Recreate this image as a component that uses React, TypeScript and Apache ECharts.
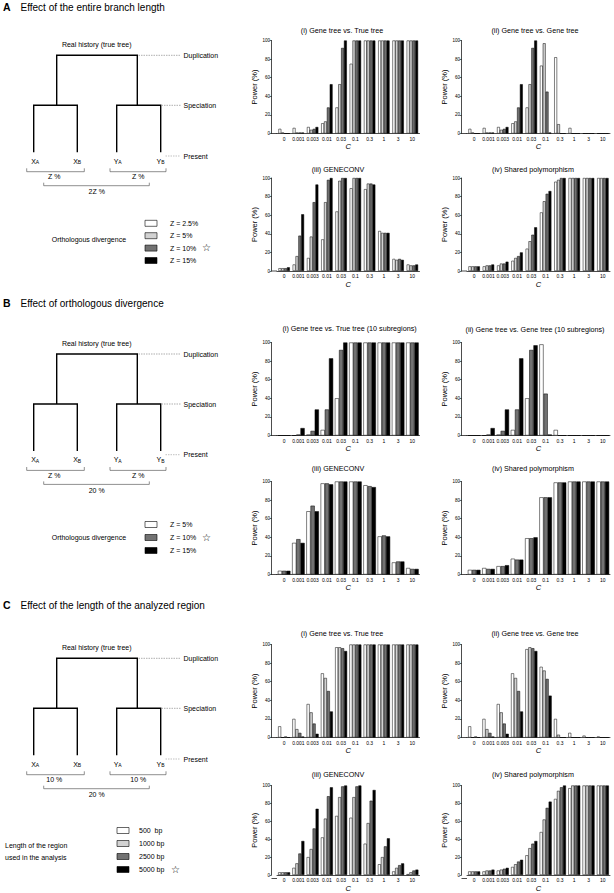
import React, { useEffect, useRef } from 'react';
import * as echarts from 'echarts';

const FONT = '"Liberation Sans", Arial, Helvetica, sans-serif';

// ---------- data ----------
const categories = ['0', '0.001', '0.003', '0.01', '0.03', '0.1', '0.3', '1', '3', '10'];

const namesA = ['Z = 2.5%', 'Z = 5%', 'Z = 10%', 'Z = 15%'];
const namesB = ['Z = 5%', 'Z = 10%', 'Z = 15%'];
const namesC = ['500  bp', '1000 bp', '2500 bp', '5000 bp'];

// A (i) Gene tree vs. True tree
const aI_z25 = [5, 6, 7, 11, 28, 75, 100, 100, 100, 100];
const aI_z5 = [1, 1, 4, 13, 53, 100, 100, 100, 100, 100];
const aI_z10 = [0, 1, 5, 28, 92, 100, 100, 100, 100, 100];
const aI_z15 = [0, 1, 7, 53, 100, 100, 100, 100, 100, 100];
// A (ii) Gene tree vs. Gene tree
const aII_z25 = [5, 6, 7, 11, 28, 73, 82, 6, 0, 0];
const aII_z5 = [1, 1, 4, 13, 53, 97, 10, 0, 0, 0];
const aII_z10 = [0, 1, 5, 28, 92, 45, 0, 0, 0, 0];
const aII_z15 = [0, 1, 7, 53, 100, 1, 0, 0, 0, 0];
// A (iii) GENECONV
const aIII_z25 = [3, 7, 14, 34, 64, 89, 88, 43, 13, 7];
const aIII_z5 = [3, 16, 37, 74, 97, 100, 94, 41, 12, 6];
const aIII_z10 = [3, 38, 74, 98, 100, 100, 94, 41, 13, 6];
const aIII_z15 = [4, 61, 93, 100, 100, 100, 93, 41, 12, 7];
// A (iv) Shared polymorphism
const aIV_z25 = [5, 5, 6, 11, 24, 63, 96, 100, 100, 100];
const aIV_z5 = [5, 6, 8, 14, 32, 75, 98, 100, 100, 100];
const aIV_z10 = [5, 6, 8, 16, 39, 83, 100, 100, 100, 100];
const aIV_z15 = [5, 7, 10, 20, 47, 86, 100, 100, 100, 100];

// B (i) Gene tree vs. True tree (10 subregions)
const bI_z5 = [0, 0, 1, 6, 40, 100, 100, 100, 100, 100];
const bI_z10 = [0, 1, 5, 28, 92, 100, 100, 100, 100, 100];
const bI_z15 = [0, 8, 28, 83, 100, 100, 100, 100, 100, 100];
// B (ii) Gene tree vs. Gene tree (10 subregions)
const bII_z5 = [0, 0, 1, 6, 40, 98, 6, 0, 0, 0];
const bII_z10 = [0, 1, 5, 28, 92, 45, 0, 0, 0, 0];
const bII_z15 = [0, 8, 28, 83, 97, 1, 0, 0, 0, 0];
// B (iii) GENECONV
const bIII_z5 = [4, 34, 68, 98, 100, 100, 96, 41, 13, 7];
const bIII_z10 = [4, 38, 74, 98, 100, 100, 95, 42, 14, 6];
const bIII_z15 = [4, 34, 68, 97, 100, 100, 94, 41, 14, 6];
// B (iv) Shared polymorphism
const bIV_z5 = [5, 7, 9, 17, 39, 83, 99, 100, 100, 100];
const bIV_z10 = [5, 6, 9, 16, 39, 83, 99, 100, 100, 100];
const bIV_z15 = [5, 6, 10, 16, 40, 83, 99, 100, 100, 100];

// C (i) Gene tree vs. True tree
const cI_500 = [12, 20, 36, 69, 97, 100, 100, 100, 100, 100];
const cI_1000 = [0, 9, 27, 64, 97, 100, 100, 100, 100, 100];
const cI_2500 = [1, 5, 15, 50, 96, 100, 100, 100, 100, 100];
const cI_5000 = [0, 1, 4, 28, 93, 100, 100, 100, 100, 100];
// C (ii) Gene tree vs. Gene tree
const cII_500 = [12, 20, 36, 69, 95, 76, 20, 5, 2, 1];
const cII_1000 = [0, 9, 27, 64, 97, 72, 3, 0, 0, 0];
const cII_2500 = [1, 5, 15, 50, 96, 63, 0, 0, 0, 0];
const cII_5000 = [0, 1, 4, 28, 93, 45, 0, 0, 0, 0];
// C (iii) GENECONV
const cIII_500 = [3, 8, 20, 42, 66, 64, 35, 12, 4, 1];
const cIII_1000 = [3, 13, 29, 63, 87, 87, 58, 20, 8, 3];
const cIII_2500 = [3, 24, 52, 88, 99, 99, 83, 32, 11, 5];
const cIII_5000 = [3, 38, 74, 98, 100, 100, 95, 41, 13, 6];
// C (iv) Shared polymorphism
const cIV_500 = [4, 4, 5, 9, 22, 48, 85, 97, 100, 100];
const cIV_1000 = [4, 5, 6, 12, 30, 62, 94, 100, 100, 100];
const cIV_2500 = [4, 5, 7, 15, 35, 75, 98, 100, 100, 100];
const cIV_5000 = [4, 6, 8, 17, 38, 82, 100, 100, 100, 100];

// ---------- styling / layout ----------
const WHITE = '#ffffff';
const LIGHT = '#d2d2d2';
const DARK = '#727272';
const BLACK = '#000000';
const COLORS4 = [WHITE, LIGHT, DARK, BLACK];
const COLORS3 = [WHITE, DARK, BLACK];

const COL1 = { axisX: 271.5, left: 277, width: 142.5, titleX: 342 };
const COL2 = { axisX: 461.5, left: 467, width: 143, titleX: 535 };
const H = 93;

type Panel = {
  title: string; titleX: number; titleY: number; top: number;
  col: typeof COL1; series: number[][]; names: string[]; colors: string[]; gap: string;
};

const panels: Panel[] = [
  { title: '(i) Gene tree vs. True tree', titleX: 342, titleY: 30, top: 40.5, col: COL1, series: [aI_z25, aI_z5, aI_z10, aI_z15], names: namesA, colors: COLORS4, gap: '20%' },
  { title: '(ii) Gene tree vs. Gene tree', titleX: 535, titleY: 30, top: 40.5, col: COL2, series: [aII_z25, aII_z5, aII_z10, aII_z15], names: namesA, colors: COLORS4, gap: '20%' },
  { title: '(iii) GENECONV', titleX: 338, titleY: 169, top: 178, col: COL1, series: [aIII_z25, aIII_z5, aIII_z10, aIII_z15], names: namesA, colors: COLORS4, gap: '20%' },
  { title: '(iv) Shared polymorphism', titleX: 533, titleY: 169, top: 178, col: COL2, series: [aIV_z25, aIV_z5, aIV_z10, aIV_z15], names: namesA, colors: COLORS4, gap: '20%' },
  { title: '(i) Gene tree vs. True tree (10 subregions)', titleX: 349.5, titleY: 328.7, top: 342.5, col: COL1, series: [bI_z5, bI_z10, bI_z15], names: namesB, colors: COLORS3, gap: '12%' },
  { title: '(ii) Gene tree vs. Gene tree (10 subregions)', titleX: 535, titleY: 329.7, top: 342.5, col: COL2, series: [bII_z5, bII_z10, bII_z15], names: namesB, colors: COLORS3, gap: '12%' },
  { title: '(iii) GENECONV', titleX: 338, titleY: 468.3, top: 481.5, col: COL1, series: [bIII_z5, bIII_z10, bIII_z15], names: namesB, colors: COLORS3, gap: '12%' },
  { title: '(iv) Shared polymorphism', titleX: 533, titleY: 468.3, top: 481.5, col: COL2, series: [bIV_z5, bIV_z10, bIV_z15], names: namesB, colors: COLORS3, gap: '12%' },
  { title: '(i) Gene tree vs. True tree', titleX: 342, titleY: 633, top: 644.5, col: COL1, series: [cI_500, cI_1000, cI_2500, cI_5000], names: namesC, colors: COLORS4, gap: '16%' },
  { title: '(ii) Gene tree vs. Gene tree', titleX: 535, titleY: 633, top: 644.5, col: COL2, series: [cII_500, cII_1000, cII_2500, cII_5000], names: namesC, colors: COLORS4, gap: '16%' },
  { title: '(iii) GENECONV', titleX: 338, titleY: 774.7, top: 785.5, col: COL1, series: [cIII_500, cIII_1000, cIII_2500, cIII_5000], names: namesC, colors: COLORS4, gap: '16%' },
  { title: '(iv) Shared polymorphism', titleX: 533, titleY: 774.7, top: 785.5, col: COL2, series: [cIV_500, cIV_1000, cIV_2500, cIV_5000], names: namesC, colors: COLORS4, gap: '16%' },
];

function txt(text: string, x: number, y: number, opts: any = {}) {
  return {
    type: 'text', x, y, silent: true,
    style: {
      text, fill: '#000', fontFamily: FONT, fontSize: opts.fontSize ?? 7,
      fontWeight: opts.fontWeight ?? 'normal', fontStyle: opts.fontStyle ?? 'normal',
      textAlign: opts.align ?? 'left', textVerticalAlign: 'middle',
      rich: opts.rich,
    },
  };
}

function poly(points: number[][], lineWidth: number, stroke = '#000', lineDash?: number[]) {
  return { type: 'polyline', silent: true, shape: { points }, style: { stroke, lineWidth, fill: null, lineDash } };
}

function treeGraphics(dy: number, l1: string, l2: string, l3: string) {
  const g: any[] = [];
  const Y = (v: number) => v + dy;
  g.push(txt('Real history (true tree)', 96.7, Y(44.3), { align: 'center' }));
  g.push(poly([[56.7, Y(105.3)], [56.7, Y(55.3)], [137.3, Y(55.3)], [137.3, Y(105.3)]], 1.4));
  g.push(poly([[33.7, Y(152.3)], [33.7, Y(105.3)], [77.3, Y(105.3)], [77.3, Y(152.3)]], 1.4));
  g.push(poly([[116.7, Y(152.3)], [116.7, Y(105.3)], [160.7, Y(105.3)], [160.7, Y(152.3)]], 1.4));
  g.push(poly([[138.5, Y(55.3)], [180.5, Y(55.3)]], 0.6, '#777', [1.5, 1]));
  g.push(poly([[161.5, Y(105.3)], [180.5, Y(105.3)]], 0.6, '#777', [1.5, 1]));
  g.push(poly([[165.5, Y(156)], [180.5, Y(156)]], 0.6, '#999', [1.5, 1]));
  g.push(txt('Duplication', 183.5, Y(55.3)));
  g.push(txt('Speciation', 183.5, Y(105.3)));
  g.push(txt('Present', 183.5, Y(156)));
  const rich = { m: { fontSize: 7, fontFamily: FONT, verticalAlign: 'bottom' }, s: { fontSize: 5, fontFamily: FONT, verticalAlign: 'bottom' } };
  g.push(txt('{m|X}{s|A}', 35.2, Y(161), { align: 'center', rich }));
  g.push(txt('{m|X}{s|B}', 77.2, Y(161), { align: 'center', rich }));
  g.push(txt('{m|Y}{s|A}', 117.7, Y(161), { align: 'center', rich }));
  g.push(txt('{m|Y}{s|B}', 160.5, Y(161), { align: 'center', rich }));
  g.push(poly([[26.7, Y(168.3)], [26.7, Y(171.7)], [84.3, Y(171.7)], [84.3, Y(168.3)]], 0.6, '#444'));
  g.push(poly([[110, Y(168.3)], [110, Y(171.7)], [166, Y(171.7)], [166, Y(168.3)]], 0.6, '#444'));
  g.push(poly([[43.7, Y(182.7)], [43.7, Y(185.7)], [149.3, Y(185.7)], [149.3, Y(182.7)]], 0.6, '#444'));
  g.push(txt(l1, 54.3, Y(176.7), { align: 'center' }));
  g.push(txt(l2, 138.3, Y(176.7), { align: 'center' }));
  g.push(txt(l3, 96.7, Y(191.7), { align: 'center' }));
  return g;
}

function legendGraphics(names: string[], colors: string[], ys: number[], boxX: number, labelX: number, starIndex: number) {
  const g: any[] = [];
  names.forEach((n, i) => {
    g.push({ type: 'rect', silent: true, shape: { x: boxX, y: ys[i] - 3, width: 12, height: 6 }, style: { fill: colors[i], stroke: '#000', lineWidth: 0.6 } });
    g.push(txt(n, labelX, ys[i]));
    if (i === starIndex) {
      g.push({ type: 'text', x: labelX + 32, y: ys[i] - 0.5, silent: true, style: { text: '\u2606', fill: '#000', fontFamily: '"DejaVu Sans", sans-serif', fontSize: 10, textAlign: 'left', textVerticalAlign: 'middle' } });
    }
  });
  return g;
}

function header(letter: string, text: string, y: number) {
  return [
    txt(letter, 3, y, { fontSize: 10.5, fontWeight: 'bold' }),
    txt(text, 20.5, y, { fontSize: 10 }),
  ];
}

function buildOption() {
  const grid: any[] = [];
  const xAxis: any[] = [];
  const yAxis: any[] = [];
  const series: any[] = [];
  const graphic: any[] = [];

  panels.forEach((p, i) => {
    grid.push({ left: p.col.left, top: p.top, width: p.col.width, height: H, containLabel: false });
    xAxis.push({
      type: 'category', gridIndex: i, data: categories,
      name: 'C', nameLocation: 'middle', nameGap: 9,
      nameTextStyle: { fontFamily: FONT, fontSize: 7.5, fontStyle: 'italic', color: '#000' },
      axisLine: { show: true, lineStyle: { color: '#000', width: 0.7 } },
      axisTick: { show: false },
      axisLabel: { interval: 0, fontSize: 5, margin: 2.5, color: '#000', fontFamily: FONT },
      splitLine: { show: false },
    });
    yAxis.push({
      type: 'value', gridIndex: i, min: 0, max: 100, interval: 20,
      offset: p.col.left - p.col.axisX,
      name: 'Power (%)', nameLocation: 'middle', nameGap: 9,
      nameTextStyle: { fontFamily: FONT, fontSize: 7.5, color: '#000' },
      axisLine: { show: true, lineStyle: { color: '#000', width: 0.7 } },
      axisTick: { show: true, length: 1.8, lineStyle: { color: '#000', width: 0.6 } },
      axisLabel: { fontSize: 4.5, margin: 1.5, color: '#000', fontFamily: FONT },
      splitLine: { show: false },
    });
    p.series.forEach((d, k) => {
      series.push({
        type: 'bar', name: p.names[k], xAxisIndex: i, yAxisIndex: i, data: d,
        barGap: '0%', barCategoryGap: p.gap, silent: true,
        itemStyle: { color: p.colors[k], borderColor: '#000', borderWidth: 0.5 },
      });
    });
    // join the offset y axis to the x axis
    graphic.push(poly([[p.col.axisX, p.top + H], [p.col.left, p.top + H]], 0.7));
    graphic.push(txt(p.title, p.titleX, p.titleY, { fontSize: 7.2, align: 'center' }));
  });

  // Section headers
  graphic.push(...header('A', 'Effect of the entire branch length', 7));
  graphic.push(...header('B', 'Effect of orthologous divergence', 303));
  graphic.push(...header('C', 'Effect of the length of the analyzed region', 605));

  // Trees
  graphic.push(...treeGraphics(0, 'Z %', 'Z %', '2Z %'));
  graphic.push(...treeGraphics(298.7, 'Z %', 'Z %', '20 %'));
  graphic.push(...treeGraphics(603, '10 %', '10 %', '20 %'));

  // Legends
  graphic.push(txt('Orthologous divergence', 51.7, 239.3));
  graphic.push(...legendGraphics(namesA, COLORS4, [223.3, 235.7, 248.1, 260.5], 145, 170, 2));
  graphic.push(txt('Orthologous divergence', 51.7, 537.5));
  graphic.push(...legendGraphics(namesB, COLORS3, [524.5, 537.5, 550.5], 145, 170, 1));
  graphic.push(txt('Length of the region', 5, 845));
  graphic.push(txt('used in the analysis', 5, 857));
  graphic.push(...legendGraphics(namesC, COLORS4, [830.5, 843.5, 856.5, 869.5], 117, 139, 3));

  return {
    animation: false,
    backgroundColor: '#ffffff',
    textStyle: { fontFamily: FONT },
    grid, xAxis, yAxis, series, graphic,
  };
}

export default function App() {
  const ref = useRef<HTMLDivElement>(null);
  useEffect(() => {
    if (!ref.current) return;
    const chart = echarts.init(ref.current, undefined, { renderer: 'svg' });
    chart.setOption(buildOption() as any);
    return () => chart.dispose();
  }, []);
  return (
    <div
      ref={ref}
      style={{ position: 'absolute', left: 0, top: 0, width: 614, height: 893, background: '#fff' }}
    />
  );
}
